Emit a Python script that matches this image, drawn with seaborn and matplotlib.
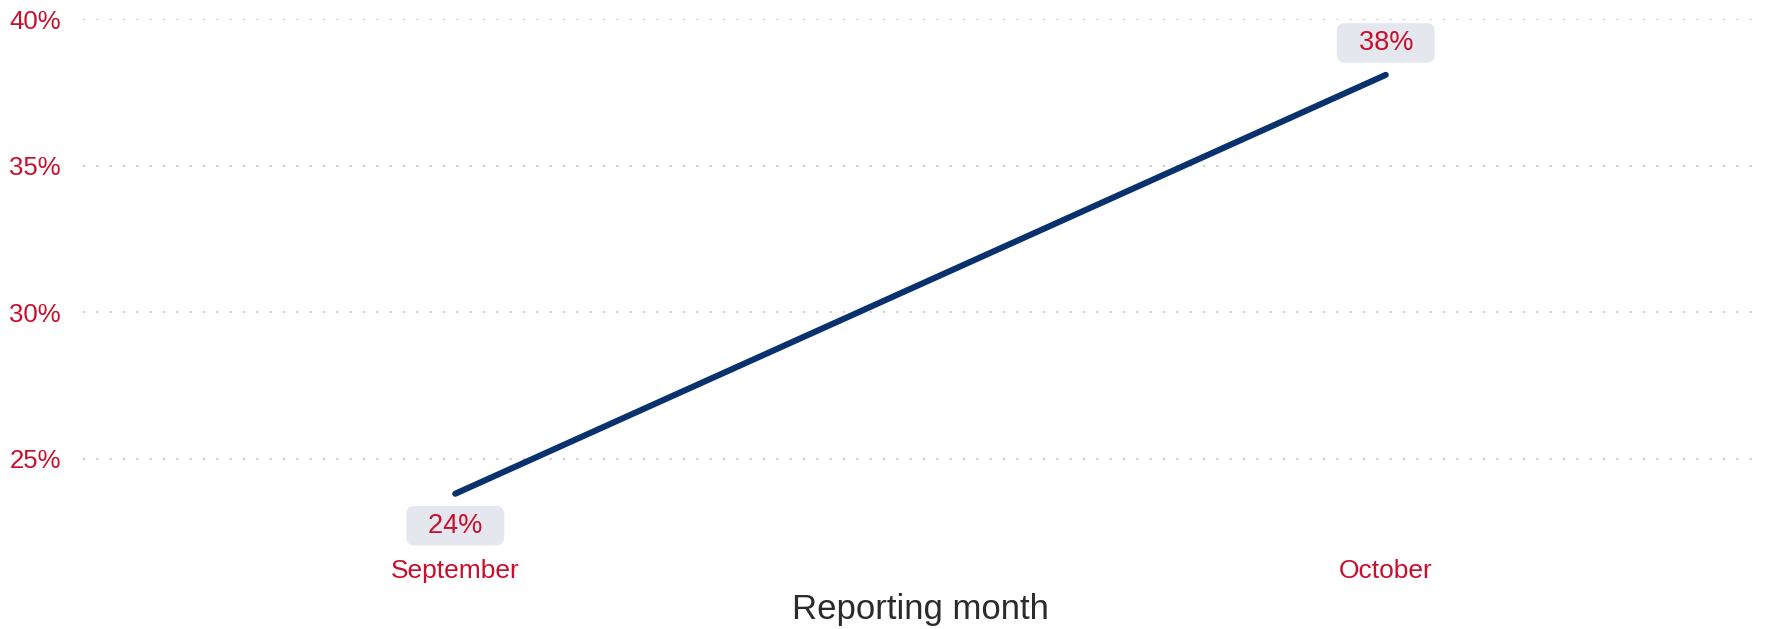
import numpy as np
import pandas as pd
import matplotlib.pyplot as plt
import seaborn as sns

# Data
months = ["September", "October"]
share = [23.8, 38.1]          # percent
point_labels = ["24%", "38%"]
label_side = [-1, 1]          # -1 below the point, 1 above
y_ticks = [25, 30, 35, 40]

df = pd.DataFrame({"month": months, "share": share})

red = "#C8102E"
navy = "#08316E"

sns.set_theme(style="white")
plt.rcParams["font.family"] = ["Liberation Sans", "DejaVu Sans"]

fig = plt.figure(figsize=(17.67, 6.29), dpi=100)
# axes placed to match the reference layout
ax = fig.add_axes([83 / 1767, 1 - 545 / 629, (1758 - 83) / 1767, (545 - 19.2) / 629])

sns.lineplot(data=df, x="month", y="share", ax=ax, color=navy,
             linewidth=4.4, solid_capstyle="round", sort=False)

for x, y, lab, side in zip(months, share, point_labels, label_side):
    ax.annotate(f"  {lab}  ", xy=(x, y), xytext=(0, 23 * side),
                textcoords="offset points", ha="center", va="center",
                fontsize=19.5, color=red,
                bbox=dict(boxstyle="round,pad=0.25,rounding_size=0.3",
                          fc="#E4E8EE", ec="none"))

ax.set_xlim(-0.4, 1.4)
ax.set_ylim(22.05, 40)
ax.set_yticks(y_ticks)
ax.set_yticklabels([f"{t}%" for t in y_ticks])

ax.grid(axis="y", color="#cccccc", linestyle=(0, (1, 5.4)), linewidth=1.5)
ax.grid(axis="x", visible=False)
sns.despine(ax=ax, left=True, bottom=True)

ax.tick_params(axis="y", length=0, pad=16, labelsize=18.5, labelcolor=red)
ax.tick_params(axis="x", length=0, pad=10, labelsize=19, labelcolor=red)
ax.set_xlabel("Reporting month", fontsize=25, color="#2b2b2b", labelpad=7)
ax.set_ylabel("")

fig.savefig("out.png", dpi=100)
